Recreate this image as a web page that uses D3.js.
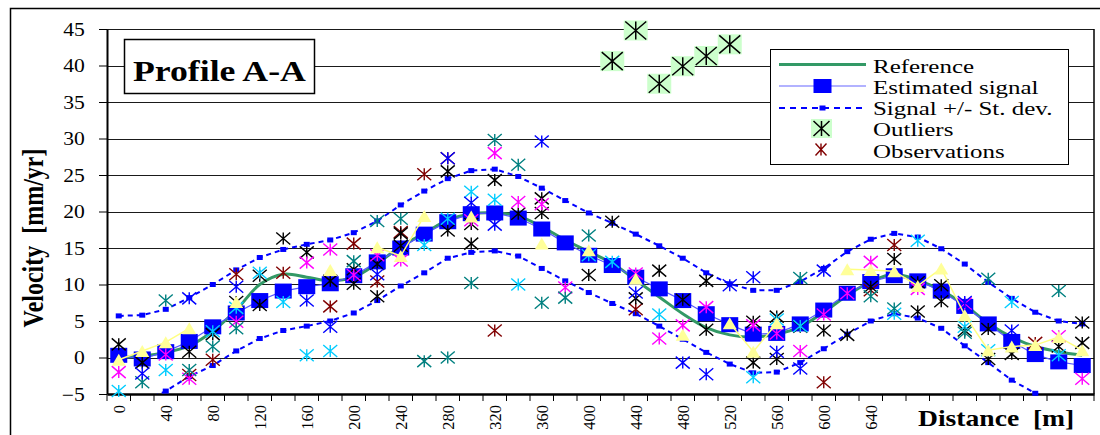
<!DOCTYPE html>
<html><head><meta charset="utf-8">
<script src="https://cdn.jsdelivr.net/npm/d3@7"></script>
<style>
body{margin:0;background:#fff}
svg{display:block}
text{font-family:"Liberation Serif","Times New Roman",serif;white-space:pre}
</style>
</head><body>
<svg id="c" width="1100" height="435"></svg>
<script>
// ---------------- DATA ----------------
const distance = [0,20,40,60,80,100,120,140,160,180,200,220,240,260,280,300,320,340,360,380,400,
  420,440,460,480,500,520,540,560,580,600,620,640,660,680,700,720,740,760,780,800,820];
const xTickLabels = [0,40,80,120,160,200,240,280,320,360,400,440,480,520,560,600,640];
const yTickValues = [-5,0,5,10,15,20,25,30,35,40,45];

const reference = [0.0,0.2,0.7,1.6,3.6,6.5,10.0,11.4,11.0,10.5,11.0,12.9,15.2,17.0,18.8,19.7,19.8,19.4,17.9,16.1,14.5,
  12.9,10.6,8.3,6.0,4.1,3.1,2.8,3.2,4.2,6.2,8.5,10.4,11.4,10.6,9.2,7.2,4.7,2.8,1.5,0.8,0.3];
const signal = [0.3,-0.2,0.8,2.2,4.2,6.1,7.8,9.1,9.7,10.1,11.2,13.1,15.0,16.9,18.6,19.7,19.8,19.1,17.6,15.7,14.0,
  12.6,11.0,9.4,7.8,6.0,4.5,3.2,3.3,4.6,6.5,8.8,10.4,11.2,10.5,9.1,7.0,4.6,2.2,0.4,-0.6,-1.1];
const signalPlusSd = [5.7,5.8,6.6,8.2,10.0,12.0,13.7,14.8,15.5,16.1,17.1,18.7,20.9,22.8,24.5,25.6,25.8,24.8,23.2,21.5,19.8,
  18.4,16.9,15.3,13.6,11.6,10.1,9.2,9.2,10.4,12.2,14.5,16.2,17.0,16.5,14.9,12.8,10.3,8.1,6.2,5.0,4.6];
const signalMinusSd = [-5.6,-6.0,-4.6,-2.6,-1.1,0.9,2.6,3.7,4.3,5.0,6.1,7.8,9.8,11.6,13.6,14.4,14.6,13.9,12.2,10.5,8.9,
  7.4,6.0,4.3,2.5,0.7,-0.9,-2.1,-2.0,-0.7,1.2,3.2,5.0,6.0,5.4,4.0,1.6,-0.7,-3.1,-4.9,-6.2,-6.8];

const outlierDistance = [420,440,460,480,500,520];
const outlierValues = [40.6,44.8,37.5,39.9,41.3,42.9];

const _ = null;
const obsMaroon = [_,_,_,-2.4,-0.3,11.4,_,11.6,_,7.0,15.6,10.4,17.2,25.1,27.3,_,3.7,_,_,_,_,
  _,6.6,_,_,_,_,_,_,_,-3.4,_,9.2,15.4,_,_,_,_,_,2.0,_,_];
const obsBlackA = [1.8,-0.7,_,0.8,3.2,7.6,11.2,16.3,14.4,10.5,12.1,12.8,17.0,_,25.5,18.3,24.3,19.7,21.8,_,11.3,
  18.6,8.1,11.9,7.9,10.5,_,4.9,5.6,4.2,3.7,3.1,9.7,13.5,10.3,9.9,3.7,3.9,0.5,_,1.5,4.8];
const obsBlackB = [_,_,_,_,_,_,7.2,_,_,_,10.1,8.4,15.3,_,17.4,15.6,_,_,19.8,_,_,
  _,_,_,_,3.8,_,-0.7,-0.2,_,_,_,_,_,6.3,7.7,_,-0.2,_,_,_,2.0];
const obsMagenta = [-2.0,_,0.4,-2.9,_,4.9,_,_,13.0,14.8,11.3,14.0,13.3,_,_,18.8,28.0,21.3,21.0,9.6,_,
  _,11.5,2.6,4.4,6.9,_,4.4,3.3,0.9,5.9,8.8,13.1,_,9.4,_,7.4,_,_,_,2.9,-2.9];
const obsCyan = [-4.6,_,-1.7,_,3.6,6.8,11.6,7.6,0.3,0.9,_,_,_,15.4,19.0,22.7,21.6,10.0,_,_,14.0,
  13.1,_,5.9,_,_,_,-2.7,5.2,4.3,_,_,_,6.0,16.0,_,4.2,1.0,7.6,_,0.3,_];
const obsTeal = [_,-3.4,7.8,-1.7,1.5,4.0,_,_,_,_,13.2,18.7,19.0,-0.5,0.0,10.2,29.8,26.4,7.5,8.2,16.7,
  _,_,_,_,_,_,_,_,10.9,_,_,8.4,6.7,_,_,3.4,10.8,_,_,9.1,_];
const obsBlue = [_,-2.2,_,8.1,_,9.7,_,_,7.8,4.2,_,11.4,_,_,27.3,21.2,18.2,_,29.6,_,_,
  _,8.9,_,-0.7,-2.3,9.9,11.0,0.8,-1.5,11.9,_,_,_,_,_,7.6,_,3.7,_,_,_];
const obsYellow = [-0.3,0.9,2.1,4.0,_,7.6,_,_,_,12.0,_,15.1,13.9,19.4,_,19.3,_,_,15.6,_,14.7,
  _,10.8,_,3.1,_,4.7,0.8,4.7,_,_,12.1,12.0,11.8,9.8,12.2,5.8,1.0,1.5,1.7,2.8,1.0];

const starSeries = [
  {values: obsMaroon, color: "#800000"},
  {values: obsBlackA, color: "#000000"},
  {values: obsBlackB, color: "#000000"},
  {values: obsMagenta, color: "#ff00ff"},
  {values: obsCyan, color: "#00ccff"},
  {values: obsTeal, color: "#008080"},
  {values: obsBlue, color: "#0000ff"}
];

// ---------------- CHART ----------------
const W = 1100, H = 435;
const L = 107, R = 1094, T = 29, B = 394;
const SX = 1.2;
const svg = d3.select("#c");

const x = d3.scaleBand().domain(distance).range([L, R]).padding(0);
const cx = d => x(d) + x.bandwidth() / 2;
const y = d3.scaleLinear().domain([-5, 45]).range([B, T]);

function stext(parent, px, py, str, o = {}) {
  const g = parent.append("g").attr("transform", `translate(${px},${py}) scale(${o.sx ?? SX},1)`);
  return g.append("text").attr("x", 0).attr("y", 0)
    .attr("font-size", o.size || 18).attr("font-weight", o.bold ? "bold" : "normal")
    .attr("text-anchor", o.anchor || "start").attr("fill", "#000").text(str);
}
const starPath = (w, h) => `M${-w/2},${-h/2}L${w/2},${h/2}M${w/2},${-h/2}L${-w/2},${h/2}M0,${-h/2}V${h/2}`;
const triPath = (w, h) => `M0,${-h/2}L${w/2},${h/2}L${-w/2},${h/2}Z`;

// outer chart border
svg.append("path").attr("d", `M10.5,${H + 5}V8.5H${W + 5}`)
  .attr("fill", "none").attr("stroke", "#000").attr("stroke-width", 1.5);

// gridlines
svg.append("g").selectAll("line").data(yTickValues.filter(v => v > -5)).join("line")
  .attr("x1", L).attr("x2", R)
  .attr("y1", d => Math.round(y(d)) + 0.5).attr("y2", d => Math.round(y(d)) + 0.5)
  .attr("stroke", "#1a1a1a").attr("stroke-width", 1);

// right border of plot
svg.append("line").attr("x1", R).attr("x2", R).attr("y1", T).attr("y2", B)
  .attr("stroke", "#000").attr("stroke-width", 1.5);

// y axis
const yAxis = svg.append("g").attr("transform", `translate(${L},0)`)
  .call(d3.axisLeft(y).tickValues(yTickValues).tickSize(8).tickPadding(10.5).tickSizeOuter(0));
yAxis.select(".domain").attr("stroke", "#000").attr("stroke-width", 2);
yAxis.selectAll(".tick line").attr("stroke", "#000").attr("stroke-width", 1);
yAxis.selectAll(".tick text").attr("font-family", '"Liberation Serif",serif').attr("font-size", 18)
  .attr("fill", "#000").attr("transform", `scale(${SX},1)`).attr("dy", "0.34em");

// x axis
const xAxis = svg.append("g").attr("transform", `translate(0,${B})`)
  .call(d3.axisBottom(x).tickValues(xTickLabels).tickSize(0).tickSizeOuter(0));
xAxis.select(".domain").attr("stroke", "#000").attr("stroke-width", 2.5);
xAxis.selectAll(".tick text").attr("font-family", '"Liberation Serif",serif').attr("font-size", 16.5)
  .attr("fill", "#000").attr("transform", "rotate(-90)").attr("text-anchor", "end")
  .attr("x", -11).attr("y", 0).attr("dy", "0.35em");
// category boundary ticks
svg.append("g").selectAll("line").data(distance.map(d => x(d)).concat([R])).join("line")
  .attr("x1", d => d).attr("x2", d => d).attr("y1", B).attr("y2", B + 7)
  .attr("stroke", "#000").attr("stroke-width", 1);

// clip for lines
svg.append("clipPath").attr("id", "pc").append("rect")
  .attr("x", L).attr("y", T - 20).attr("width", R - L).attr("height", B - T + 20);

const pts = arr => distance.map((d, i) => ({d, v: arr[i]}));
const line = d3.line().defined(p => p.v !== null).x(p => cx(p.d)).y(p => y(p.v));

// reference (smooth)
svg.append("path").datum(pts(reference))
  .attr("d", d3.line().x(p => cx(p.d)).y(p => y(p.v)).curve(d3.curveCatmullRom.alpha(0.5)))
  .attr("fill", "none").attr("stroke", "#339966").attr("stroke-width", 3);

// estimated signal
svg.append("path").datum(pts(signal)).attr("d", line)
  .attr("fill", "none").attr("stroke", "#5555ff").attr("stroke-width", 1.2);
svg.append("g").selectAll("rect").data(pts(signal)).join("rect")
  .attr("x", p => cx(p.d) - 8.5).attr("y", p => y(p.v) - 7.5)
  .attr("width", 17).attr("height", 15).attr("fill", "#0000ff");

// +/- st dev
[signalPlusSd, signalMinusSd].forEach(arr => {
  svg.append("path").datum(pts(arr)).attr("d", line).attr("clip-path", "url(#pc)")
    .attr("fill", "none").attr("stroke", "#0000ff").attr("stroke-width", 2).attr("stroke-dasharray", "5,4");
  svg.append("g").selectAll("rect").data(pts(arr).filter(p => p.v >= -5)).join("rect")
    .attr("x", p => cx(p.d) - 3).attr("y", p => y(p.v) - 2.5)
    .attr("width", 6).attr("height", 5).attr("fill", "#0000ff");
});

// outliers
const og = svg.append("g");
outlierDistance.forEach((d, i) => {
  const px = cx(d), py = y(outlierValues[i]);
  og.append("rect").attr("x", px - 12).attr("y", py - 10).attr("width", 24).attr("height", 20).attr("fill", "#ccffcc");
  og.append("path").attr("d", starPath(21, 18)).attr("transform", `translate(${px},${py})`)
    .attr("fill", "none").attr("stroke", "#000").attr("stroke-width", 1.5);
});

// observations (stars)
starSeries.forEach(s => {
  svg.append("g").selectAll("path").data(pts(s.values).filter(p => p.v !== null)).join("path")
    .attr("d", starPath(14, 12)).attr("transform", p => `translate(${cx(p.d)},${y(p.v)})`)
    .attr("fill", "none").attr("stroke", s.color).attr("stroke-width", 1.4);
});
// observations (yellow triangles)
svg.append("path").datum(pts(obsYellow)).attr("d", line)
  .attr("fill", "none").attr("stroke", "#ffff80").attr("stroke-width", 1.5);
svg.append("g").selectAll("path").data(pts(obsYellow).filter(p => p.v !== null)).join("path")
  .attr("d", triPath(14, 12)).attr("transform", p => `translate(${cx(p.d)},${y(p.v)})`)
  .attr("fill", "#ffff99");

// title box
svg.append("rect").attr("x", 124.5).attr("y", 39.5).attr("width", 190).attr("height", 54)
  .attr("fill", "#fff").attr("stroke", "#000").attr("stroke-width", 1.5);
stext(svg, 133, 80.5, "Profile A-A", {size: 30, bold: true, sx: 1.19});

// axis titles
svg.append("g").attr("transform", "translate(43,238) rotate(-90) scale(1,1.2)")
  .append("text").attr("text-anchor", "middle").attr("font-size", 24).attr("font-weight", "bold")
  .attr("fill", "#000").text("Velocity  [mm/yr]");
stext(svg, 918, 426, "Distance  [m]", {size: 23, bold: true});

// legend
const LF = 19.5, LSX = 1.28;
const lg = svg.append("g");
lg.append("rect").attr("x", 770.5).attr("y", 49.5).attr("width", 298).attr("height", 115)
  .attr("fill", "#fff").attr("stroke", "#000").attr("stroke-width", 1);
const lx1 = 779, lx2 = 866, lmx = 822.5, tx = 873;
lg.append("line").attr("x1", lx1).attr("x2", lx2).attr("y1", 64.5).attr("y2", 64.5)
  .attr("stroke", "#339966").attr("stroke-width", 3);
stext(lg, tx, 73, "Reference", {size: LF, sx: LSX});
lg.append("line").attr("x1", lx1).attr("x2", lx2).attr("y1", 86).attr("y2", 86)
  .attr("stroke", "#6666ff").attr("stroke-width", 1.2);
lg.append("rect").attr("x", lmx - 9).attr("y", 79).attr("width", 18).attr("height", 14).attr("fill", "#0000ff");
stext(lg, tx, 93.5, "Estimated signal", {size: LF, sx: LSX});
lg.append("line").attr("x1", lx1).attr("x2", lx2).attr("y1", 108).attr("y2", 108)
  .attr("stroke", "#0000ff").attr("stroke-width", 2).attr("stroke-dasharray", "6,5");
lg.append("rect").attr("x", lmx - 3).attr("y", 105.5).attr("width", 6).attr("height", 5).attr("fill", "#0000ff");
stext(lg, tx, 115, "Signal +/- St. dev.", {size: LF, sx: LSX});
lg.append("rect").attr("x", 811).attr("y", 119).attr("width", 21).attr("height", 19).attr("fill", "#ccffcc");
lg.append("path").attr("d", starPath(16, 15)).attr("transform", "translate(821.5,128.5)")
  .attr("fill", "none").attr("stroke", "#000").attr("stroke-width", 1.5);
stext(lg, tx, 136, "Outliers", {size: LF, sx: LSX});
lg.append("path").attr("d", starPath(11, 12)).attr("transform", "translate(821,149.5)")
  .attr("fill", "none").attr("stroke", "#800000").attr("stroke-width", 1.4);
stext(lg, tx, 157.5, "Observations", {size: LF, sx: LSX});
</script>
</body></html>
